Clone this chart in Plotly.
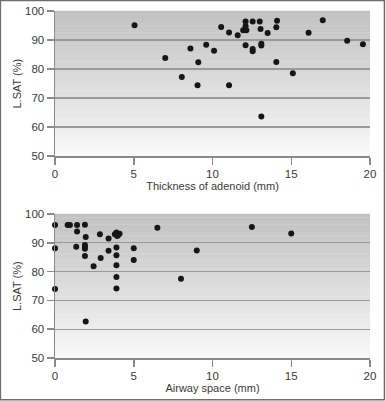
import plotly.graph_objects as go

# Top panel: thickness of adenoid (mm) vs L.SAT (%)
adenoid_mm = [5.05, 7.0, 8.05, 8.6, 9.05, 9.1, 9.6, 10.1, 10.55, 11.05, 11.05, 11.6, 11.95,
              12.1, 12.1, 12.15, 12.1, 12.55, 12.55, 12.55, 13.0, 13.05, 13.1, 13.1, 13.1,
              13.5, 14.1, 14.05, 14.05, 15.1, 16.1, 17.0, 18.55, 19.55]
adenoid_lsat = [95.1, 83.8, 77.2, 87.1, 74.4, 82.3, 88.4, 86.3, 94.5, 92.6, 74.4, 91.6, 93.4,
                96.4, 94.7, 93.4, 88.2, 96.4, 86.9, 86.1, 96.4, 93.8, 88.7, 88.1, 63.6,
                92.4, 96.6, 94.4, 82.4, 78.5, 92.5, 96.8, 89.7, 88.5]

# Bottom panel: airway space (mm) vs L.SAT (%)
airway_mm = [0.0, 0.0, 0.0, 0.8, 0.95, 1.4, 1.9, 1.4, 1.35, 1.95, 1.9, 1.9, 1.9, 1.9, 1.95,
             2.45, 2.85, 2.9, 3.4, 3.4, 3.8, 3.9, 4.0, 4.1, 3.95,
             3.9, 3.9, 3.9, 3.9, 3.9, 5.0, 5.0, 6.5, 8.0, 9.0, 12.5, 15.0]
airway_lsat = [96.2, 88.1, 74.0, 96.2, 96.2, 96.2, 96.3, 93.9, 88.6, 92.0, 89.2, 88.5, 87.9,
               85.4, 62.7, 81.9, 93.0, 84.7, 91.5, 87.2, 93.0, 93.6, 92.6, 93.1, 92.4,
               88.4, 85.7, 82.2, 78.1, 74.1, 88.1, 84.0, 95.2, 77.5, 87.3, 95.5, 93.2]

x_ticks = [0, 5, 10, 15, 20]
y_ticks = [50, 60, 70, 80, 90, 100]
x_titles = ["Thickness of adenoid (mm)", "Airway space (mm)"]
y_title = "L.SAT (%)"

FONT = "Liberation Sans, Arial, sans-serif"
TXT = "#3a3a3a"
AX = "#8a8a8a"

fig = go.Figure()
fig.add_trace(go.Scatter(x=adenoid_mm, y=adenoid_lsat, mode="markers",
                         marker=dict(size=6, color="#161616"), cliponaxis=False,
                         xaxis="x", yaxis="y", showlegend=False, hoverinfo="skip"))
fig.add_trace(go.Scatter(x=airway_mm, y=airway_lsat, mode="markers",
                         marker=dict(size=6, color="#161616"), cliponaxis=False,
                         xaxis="x2", yaxis="y2", showlegend=False, hoverinfo="skip"))

W, H = 386, 401
xdom = [55 / W, 370 / W]
ydom1 = [1 - 156 / H, 1 - 11 / H]
ydom2 = [1 - 358 / H, 1 - 214 / H]

def xaxis(dom_anchor, title):
    return dict(domain=xdom, anchor=dom_anchor, range=[0, 20], tickvals=x_ticks,
                automargin=False,
                showgrid=False, zeroline=False, showline=True, linecolor=AX, linewidth=1.5,
                ticks="outside", ticklen=7, tickcolor=AX, tickwidth=1.5,
                tickfont=dict(family=FONT, size=11.5, color=TXT),
                title=dict(text=title, font=dict(family=FONT, size=11, color=TXT), standoff=3))

def yaxis(dom, anchor):
    return dict(domain=dom, anchor=anchor, range=[50, 100], tickvals=y_ticks,
                automargin=False,
                showgrid=True, gridcolor="#9a9a9a", gridwidth=1.2, zeroline=False,
                showline=True, linecolor=AX, linewidth=1.5,
                ticks="outside", ticklen=7, tickcolor=AX, tickwidth=1.5,
                tickfont=dict(family=FONT, size=11.5, color=TXT))

shapes = []
# gradient background bands for each panel
N = 40
for xr, yr in [("x domain", "y domain"), ("x2 domain", "y2 domain")]:
    for i in range(N):
        t = i / (N - 1)  # 0 bottom -> 1 top
        g = int(round(250 - (250 - 194) * (t ** 0.9)))
        shapes.append(dict(type="rect", xref=xr, yref=yr, x0=0, x1=1,
                           y0=i / N, y1=(i + 1) / N + 0.002, line=dict(width=0),
                           fillcolor=f"rgb({g},{g},{g})", layer="below"))
# outer border
shapes.append(dict(type="rect", xref="paper", yref="paper", x0=0.001, x1=0.996,
                   y0=0.003, y1=0.999, line=dict(color="#6e6e6e", width=1.5),
                   fillcolor="rgba(0,0,0,0)"))

annotations = []
for dom in (ydom1, ydom2):
    annotations.append(dict(text=y_title, xref="paper", yref="paper",
                            x=17 / W, y=(dom[0] + dom[1]) / 2, textangle=-90,
                            showarrow=False, xanchor="center", yanchor="middle",
                            font=dict(family=FONT, size=11, color=TXT)))

fig.update_layout(
    width=W, height=H, margin=dict(l=0, r=0, t=0, b=0),
    paper_bgcolor="white", plot_bgcolor="rgba(0,0,0,0)",
    xaxis=xaxis("y", x_titles[0]), yaxis=yaxis(ydom1, "x"),
    xaxis2=xaxis("y2", x_titles[1]), yaxis2=yaxis(ydom2, "x2"),
    shapes=shapes, annotations=annotations,
)
fig.write_html("out.html", config={"displayModeBar": False, "staticPlot": True},
               post_script="document.body.style.margin='0';document.body.style.overflow='hidden';")
